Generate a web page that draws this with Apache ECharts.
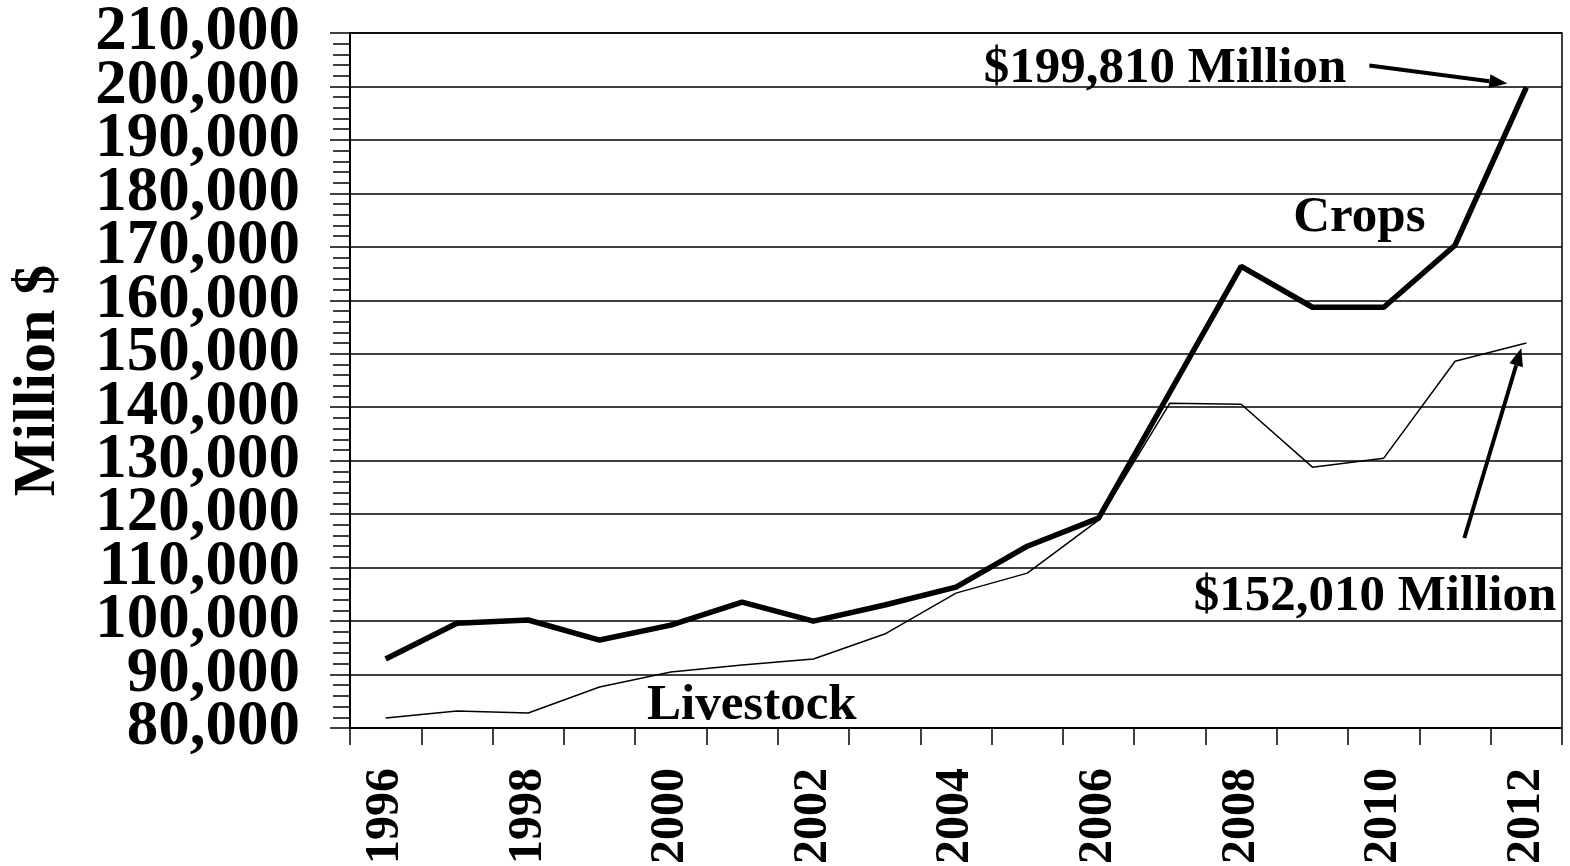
<!DOCTYPE html>
<html>
<head>
<meta charset="utf-8">
<script src="https://cdn.jsdelivr.net/npm/echarts@6/dist/echarts.min.js"></script>
<style>
html,body{margin:0;padding:0;background:#fff;}
#c{width:1570px;height:866px;}
</style>
</head>
<body>
<div id="c"></div>
<script>
const years = ['1996','1997','1998','1999','2000','2001','2002','2003','2004','2005','2006','2007','2008','2009','2010','2011','2012'];
const crops = [92900, 99600, 100200, 96450, 99250, 103550, 100000, 103000, 106350, 114000, 119250, 142800, 166350, 158700, 158700, 170300, 199810];
const livestock = [81870, 83180, 82800, 87660, 90470, 91780, 92900, 97570, 105230, 108970, 118880, 140750, 140560, 128790, 130470, 148600, 152010];
const yMin = 80000, yMax = 210000, yStep = 10000;
const yTicksA = [80000, 100000, 120000, 140000, 160000, 180000, 200000];
const yTicksB = [90000, 110000, 130000, 150000, 170000, 190000, 210000];

const FONT = '"Liberation Serif", "Times New Roman", serif';
const fmt = v => String(v).replace(/\B(?=(\d{3})+(?!\d))/g, ',');
const labelStyle = {
  formatter: fmt, margin: 50, hideOverlap: false,
  color: '#000', fontFamily: FONT, fontWeight: 'bold', fontSize: 63
};

const chart = echarts.init(document.getElementById('c'), null, {renderer: 'canvas'});
chart.setOption({
  animation: false,
  backgroundColor: '#fff',
  grid: {left: 350, right: 8, top: 33, bottom: 138, containLabel: false, outerBoundsMode: 'none',
    show: true, borderColor: '#000', borderWidth: 1.5, backgroundColor: 'transparent'},
  xAxis: {
    type: 'category',
    data: years,
    boundaryGap: true,
    axisLine: {lineStyle: {color: '#000', width: 2}},
    axisTick: {show: true, interval: 0, length: 17, lineStyle: {color: '#000', width: 1.5}},
    axisLabel: {
      interval: 1, rotate: 90, margin: 40, hideOverlap: false,
      color: '#000', fontFamily: FONT, fontWeight: 'bold', fontSize: 48
    },
    splitLine: {show: false}
  },
  yAxis: [{
    type: 'value',
    position: 'left',
    min: yMin, max: yMax, interval: yStep,
    name: 'Million $',
    nameLocation: 'middle',
    nameRotate: 90,
    nameGap: 282,
    nameTextStyle: {color: '#000', fontFamily: FONT, fontWeight: 'bold', fontSize: 60},
    axisLine: {show: true, lineStyle: {color: '#000', width: 2}},
    axisTick: {show: true, length: 20, lineStyle: {color: '#000', width: 1.5}},
    minorTick: {show: true, splitNumber: 5, length: 17, lineStyle: {color: '#000', width: 1.5}},
    axisLabel: Object.assign({customValues: yTicksA}, labelStyle),
    splitLine: {show: true, lineStyle: {color: '#000', width: 1.5}}
  }, {
    type: 'value',
    position: 'left',
    offset: 0,
    min: yMin, max: yMax, interval: yStep,
    axisLine: {show: false},
    axisTick: {show: false},
    minorTick: {show: false},
    splitLine: {show: false},
    axisLabel: Object.assign({customValues: yTicksB}, labelStyle)
  }],
  series: [
    {name: 'Crops', type: 'line', data: crops, symbol: 'none', lineStyle: {color: '#000', width: 5.5}, z: 3},
    {name: 'Livestock', type: 'line', data: livestock, symbol: 'none', lineStyle: {color: '#000', width: 1.5}, z: 2}
  ]
});

function arrow(x1, y1, x2, y2, w, headLen, headW) {
  const dx = x2 - x1, dy = y2 - y1, L = Math.hypot(dx, dy);
  const ux = dx / L, uy = dy / L, nx = -uy, ny = ux;
  const bx = x2 - ux * headLen, by = y2 - uy * headLen;
  return [
    {type: 'line', shape: {x1: x1, y1: y1, x2: bx, y2: by}, style: {stroke: '#000', lineWidth: w}, z: 10},
    {type: 'polygon', shape: {points: [[x2, y2], [bx + nx * headW / 2, by + ny * headW / 2], [bx - nx * headW / 2, by - ny * headW / 2]]}, style: {fill: '#000'}, z: 10}
  ];
}
function txt(t, x, y, align) {
  return {type: 'text', z: 11, style: {text: t, x: x, y: y, align: align, verticalAlign: 'middle',
    font: 'bold 51px ' + FONT, fill: '#000'}};
}

const last = years.length - 1;
const pc = chart.convertToPixel({seriesIndex: 0}, [last, crops[last]]);
const pl = chart.convertToPixel({seriesIndex: 1}, [last, livestock[last]]);
const pl4 = chart.convertToPixel({seriesIndex: 1}, [4, livestock[4]]);

const g = [];
g.push(...arrow(pc[0] - 157, pc[1] - 22, pc[0] - 19, pc[1] - 4, 4, 18, 14));
g.push(...arrow(pl[0] - 62, pl[1] + 195, pl[0] - 5, pl[1] + 5, 4, 18, 14));
g.push(txt('$' + fmt(crops[last]) + ' Million', pc[0] - 180, pc[1] - 19, 'right'));
g.push(txt('Crops', pc[0] - 167, pc[1] + 130, 'center'));
g.push(txt('$' + fmt(livestock[last]) + ' Million', pl[0] + 30, pl[1] + 254, 'right'));
g.push(txt('Livestock', pl4[0] + 81, pl4[1] + 34, 'center'));
chart.setOption({graphic: g});
</script>
</body>
</html>
